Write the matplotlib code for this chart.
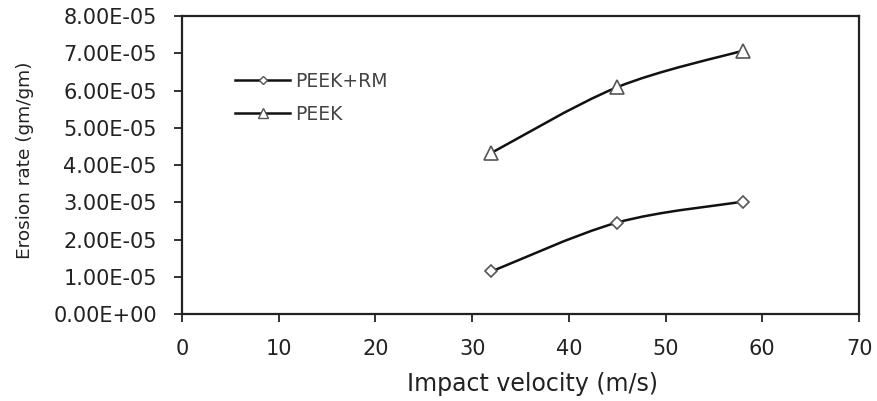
import matplotlib
matplotlib.use("Agg")
import matplotlib.pyplot as plt
from matplotlib.path import Path
from matplotlib.patches import PathPatch
from matplotlib.lines import Line2D
import numpy as np

plt.rcParams['font.family'] = ['DejaVu Sans']

velocity = [32, 45, 58]
peek_rm = [1.15e-5, 2.46e-5, 3.02e-5]
peek = [4.33e-5, 6.09e-5, 7.07e-5]
series_labels = ["PEEK+RM", "PEEK"]
x_ticks = [0, 10, 20, 30, 40, 50, 60, 70]
y_ticks = [0, 1e-5, 2e-5, 3e-5, 4e-5, 5e-5, 6e-5, 7e-5, 8e-5]

fig = plt.figure(figsize=(8.77, 4.01), dpi=100)
ax = fig.add_axes([0.2075, 0.2162, 0.772, 0.744])

def smooth_path(xs, ys):
    pts = np.column_stack([xs, ys])
    verts = [pts[0]]
    codes = [Path.MOVETO]
    n = len(pts)
    for i in range(n - 1):
        p0 = pts[i - 1] if i > 0 else pts[i]
        p1 = pts[i]
        p2 = pts[i + 1]
        p3 = pts[i + 2] if i + 2 < n else pts[i + 1]
        c1 = p1 + (p2 - p0) / 6.0
        c2 = p2 - (p3 - p1) / 6.0
        verts += [c1, c2, p2]
        codes += [Path.CURVE4] * 3
    return Path(verts, codes)

line_color = '#111111'
edge = '#555555'
for ys, mk, ms in [(peek_rm, 'D', 6.5), (peek, '^', 10)]:
    patch = PathPatch(smooth_path(velocity, ys), fill=False, edgecolor=line_color, lw=1.8, zorder=2)
    ax.add_patch(patch)
    ax.plot(velocity, ys, linestyle='none', marker=mk, markersize=ms,
            markerfacecolor='white', markeredgecolor=edge, markeredgewidth=1.2, zorder=3)

handles = [
    Line2D([], [], color=line_color, lw=1.8, marker='D', markersize=4.5,
           markerfacecolor='white', markeredgecolor=edge, markeredgewidth=1.0),
    Line2D([], [], color=line_color, lw=1.8, marker='^', markersize=7,
           markerfacecolor='white', markeredgecolor=edge, markeredgewidth=1.0),
]
leg = ax.legend(handles, series_labels, loc='upper left', bbox_to_anchor=(0.065, 0.845),
                frameon=False, fontsize=13.5, handlelength=2.9, handletextpad=0.3,
                labelspacing=0.75, labelcolor='#444444', borderpad=0.0)

ax.set_xlim(0, 70)
ax.set_ylim(0, 8e-5)
ax.set_xticks(x_ticks)
ax.set_yticks(y_ticks)
ax.set_xticklabels([str(v) for v in x_ticks])
ax.set_yticklabels([f"{v:.2E}" for v in y_ticks])

for s in ax.spines.values():
    s.set_linewidth(1.6)
    s.set_color('#222222')

ax.tick_params(axis='both', direction='out', length=6, width=1.3, colors='#222222',
               labelsize=15, pad=12)
ax.tick_params(axis='x', pad=12)

ax.set_xlabel("Impact velocity (m/s)", fontsize=17, color='#222222')
ax.set_ylabel("Erosion rate (gm/gm)", fontsize=13.3, color='#222222')
ax.xaxis.set_label_coords(0.517, -0.195)
ax.yaxis.set_label_coords(-0.218, 0.517)

fig.savefig("out.png", dpi=100)
